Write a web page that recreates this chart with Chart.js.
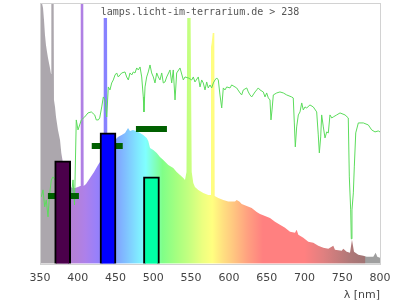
<!DOCTYPE html>
<html>
<head>
<meta charset="utf-8">
<script src="https://cdn.jsdelivr.net/npm/chart.js@4.4.1/dist/chart.umd.min.js"></script>
<style>
  html, body { margin: 0; padding: 0; background: #fff; }
  #wrap { width: 400px; height: 300px; }
</style>
</head>
<body>
<div id="wrap"><canvas id="spectrumChart"></canvas></div>
<script>
// x axis ticks (nm)
const xTicks = [350, 400, 450, 500, 550, 600, 650, 700, 750, 800];

// lamp spectrum (relative intensity, 0..261)
const lampNm = [350, 352.6, 354, 355.3, 356.6, 357.9, 359.3, 360.6, 361.9, 363.2,
  364.6, 365, 368.1, 368.5, 369.9, 371.2, 373.8, 376.5, 378.2, 380.4,
  384.4, 388.4, 392.4, 396.3, 400.3, 403.3, 403.9, 407.3, 407.8, 410.9,
  416.2, 421.5, 426.8, 429.4, 434, 434.3, 438.7, 439.1, 442.6, 449.3,
  453.2, 458.1, 462.5, 466.5, 469.1, 473.1, 477.1, 482.4, 486.7, 491.2,
  493.3, 495.6, 500, 504.5, 508.8, 513.2, 519.8, 526.4, 530.9, 535.3,
  539.7, 541.9, 543.9, 545, 549.2, 550.8, 552.9, 555.1, 559.5, 566.1,
  572.7, 575.9, 576.3, 577.2, 578.6, 580.7, 581.2, 586, 592.6, 599.2,
  608.1, 610.3, 613.8, 617, 623.6, 630.2, 636.8, 641.2, 647.8, 654.4,
  661, 667.6, 674.3, 680.9, 687.5, 689.7, 691.9, 698.5, 705.1, 711.7,
  718.3, 725, 731.6, 738.2, 740.4, 749.3, 751.4, 755.9, 760.3, 762.9,
  765.6, 771.3, 777.9, 782.4, 791.1, 794.3, 796.4, 800];
const lampValues = [261, 261, 256, 244, 229, 219, 212, 206, 201, 196,
  190, 261, 261, 164, 157, 147, 134, 124, 111, 101,
  89, 79, 76, 76, 77, 78, 261, 261, 78, 80,
  86, 92, 99, 102, 104, 261, 261, 112, 116, 124,
  127, 129, 131, 136, 133, 134, 133, 131, 129, 126,
  123, 116, 114, 111, 107, 104, 99, 96, 92, 89,
  86, 84, 92, 261, 261, 92, 81, 77, 74, 71,
  69, 69, 217, 221, 231, 231, 68, 66, 64, 62.5,
  62.5, 64, 62.5, 60, 58, 56, 52, 50, 48, 46,
  42, 39, 36, 32, 31, 34, 29, 26, 22, 21,
  18, 16, 15, 18, 14, 13, 15, 12, 11, 24,
  12, 9, 8, 7, 7, 11, 7, 6];

// daylight reference (green line)
const sunNm = [351.7, 354, 356.2, 358.3, 360.6, 362.6, 365, 367.2, 379, 391.4,
  393.7, 395.7, 398, 400.3, 404.7, 409.2, 413.5, 417.9, 422.4, 424.5,
  427.2, 429, 431.7, 433.8, 436, 438.3, 440.4, 442.6, 444.9, 447,
  449.3, 451.5, 453.6, 455.9, 458.1, 462.5, 464.7, 466.9, 469.1, 471.4,
  473.5, 475.7, 478, 480.1, 482.4, 484.6, 486.7, 487.6, 489, 491.2,
  493.3, 495.6, 497.8, 500, 502.2, 504.5, 506.6, 508.8, 511.1, 513.2,
  515.4, 517.7, 522.1, 524.3, 526.4, 528.7, 530.9, 535.3, 539.7, 541.9,
  546.3, 550.8, 552.9, 555.1, 559.5, 561.8, 564, 566.1, 568.4, 570.6,
  572.7, 575, 577.2, 579.4, 581.6, 583.9, 586, 588.2, 590.5, 592.6,
  594.8, 597.1, 601.5, 603.7, 608.1, 610.3, 614.7, 616.9, 619.1, 623.6,
  625.7, 627.9, 630.2, 634.6, 636.8, 638.9, 641.2, 645.5, 647.8, 650,
  652.2, 654.4, 655.7, 657.1, 658.8, 663.3, 667.6, 672, 676.5, 683.1,
  685.2, 686.6, 687.9, 689.7, 691.9, 694.1, 696.4, 698.5, 700.7, 703,
  707.3, 711.7, 716.2, 718.3, 719.7, 721.5, 722.8, 725, 727.2, 729.5,
  731.6, 733.8, 736.1, 738.2, 742.7, 747.1, 753.7, 758, 759.4, 761.2,
  762, 762.9, 764.7, 766, 767.9, 771.3, 777.9, 784.5, 789, 793.4,
  797.7, 800];
const sunValues = [67, 74, 57, 64, 47, 69, 84, 87, 74, 67,
  84, 59, 144, 134, 144, 147, 151, 152, 149, 144,
  144, 146, 157, 167, 164, 147, 177, 174, 181, 184,
  189, 191, 187, 189, 191, 192, 187, 184, 191, 189,
  192, 191, 196, 194, 197, 187, 167, 152, 177, 187,
  192, 199, 191, 187, 181, 191, 187, 184, 191, 181,
  182, 187, 194, 181, 194, 164, 191, 196, 184, 187,
  186, 184, 187, 182, 187, 177, 184, 181, 174, 182,
  176, 179, 176, 181, 184, 186, 184, 169, 156, 176,
  174, 177, 176, 179, 177, 176, 171, 169, 174, 176,
  172, 169, 167, 172, 174, 176, 174, 172, 167, 171,
  166, 164, 144, 154, 169, 171, 172, 171, 169, 167,
  166, 141, 117, 137, 149, 152, 161, 154, 157, 156,
  159, 157, 152, 129, 111, 127, 149, 137, 126, 132,
  131, 149, 146, 147, 149, 151, 149, 146, 87, 54,
  25, 54, 71, 97, 131, 141, 141, 139, 134, 132,
  133, 132];

// band bars and their reference marks
const barNm = [380, 440, 497.5];
const barValues = [103, 131, 87];
const barColors = ['#4b004b', '#0000ff', '#00ffa5'];
const markerNm = [381, 439, 497.5];
const markerValues = [68, 118, 135];

// colour of the lamp fill along the wavelength axis
const paletteNm = [350, 378, 381, 400, 410, 425, 436, 450, 465, 480, 490, 500, 512, 530,
  546, 565, 578, 592, 605, 625, 645, 700, 725, 760, 780, 781, 800];
const paletteColors = ['#aca7ad', '#aca7ad', '#b681cc', '#b380dc', '#ad80ea', '#9880fa', '#8880ff',
  '#80a0ff', '#80c4ff', '#80eaff', '#80ffff', '#80ffc8', '#80ff88', '#a4ff80', '#c2ff80',
  '#ecff80', '#ffff80', '#ffe080', '#ffc880', '#ffa080', '#ff8080', '#ff8080', '#e08080',
  '#b07878', '#a07474', '#9f9f9f', '#9f9f9f'];

const stampText = 'lamps.licht-im-terrarium.de > 238';

function spectrumFill(context) {
  const chart = context.chart;
  const area = chart.chartArea;
  if (!area) return null;
  const xs = chart.scales.x;
  const g = chart.ctx.createLinearGradient(area.left, 0, area.right, 0);
  paletteNm.forEach((nm, i) => {
    const t = (xs.getPixelForValue(nm) - area.left) / (area.right - area.left);
    g.addColorStop(Math.min(1, Math.max(0, t)), paletteColors[i]);
  });
  return g;
}

const frameAndStamp = {
  id: 'frameAndStamp',
  afterDatasetsDraw(chart) {
    const { ctx, chartArea: a } = chart;
    ctx.save();
    ctx.strokeStyle = '#d2d2d2';
    ctx.lineWidth = 1;
    ctx.strokeRect(Math.round(a.left) + 0.5, Math.round(a.top) + 0.5,
      Math.round(a.right - a.left), Math.round(a.bottom - a.top));

    ctx.font = '10px "DejaVu Sans Mono", monospace';
    const w = ctx.measureText(stampText).width;
    const cx = chart.width / 2;
    ctx.fillStyle = '#fff';
    ctx.fillRect(cx - w / 2 - 2, Math.round(a.top) + 1, w + 4, 14);
    ctx.fillStyle = '#555';
    ctx.textAlign = 'center';
    ctx.textBaseline = 'alphabetic';
    ctx.fillText(stampText, cx, 15);
    ctx.restore();
  }
};

new Chart(document.getElementById('spectrumChart'), {
  type: 'line',
  data: {
    datasets: [
      {
        type: 'bar',
        label: 'bands',
        data: barNm.map((nm, i) => ({ x: nm, y: barValues[i] })),
        backgroundColor: barColors,
        borderColor: '#000',
        borderWidth: 2,
        barThickness: 16,
        order: 1
      },
      {
        label: 'marks',
        data: markerNm.map((nm, i) => ({ x: nm, y: markerValues[i] })),
        showLine: false,
        pointStyle: 'line',
        pointRadius: 15.5,
        pointBorderWidth: 6,
        pointBorderColor: '#006000',
        pointBackgroundColor: '#006000',
        pointHoverRadius: 15.5,
        order: 2
      },
      {
        label: 'daylight',
        data: sunNm.map((nm, i) => ({ x: nm, y: sunValues[i] })),
        borderColor: '#5cdc5c',
        borderWidth: 1,
        pointRadius: 0,
        fill: false,
        tension: 0,
        order: 3
      },
      {
        label: 'lamp',
        data: lampNm.map((nm, i) => ({ x: nm, y: lampValues[i] })),
        borderWidth: 0,
        borderColor: 'rgba(0,0,0,0)',
        backgroundColor: spectrumFill,
        pointRadius: 0,
        fill: 'origin',
        tension: 0,
        order: 4
      }
    ]
  },
  options: {
    responsive: true,
    maintainAspectRatio: false,
    animation: false,
    layout: { autoPadding: false, padding: { left: 40, right: 20, top: 3, bottom: 0 } },
    plugins: {
      legend: { display: false },
      tooltip: { enabled: false }
    },
    scales: {
      x: {
        type: 'linear',
        min: 350,
        max: 800,
        offset: false,
        afterBuildTicks: (scale) => { scale.ticks = xTicks.map(v => ({ value: v })); },
        grid: { display: false, drawTicks: false, offset: false },
        border: { display: false },
        ticks: {
          padding: 7.4,
          color: '#444',
          font: { family: 'DejaVu Sans', size: 11, lineHeight: 1.2 },
          maxRotation: 0
        },
        title: {
          display: true,
          text: 'λ [nm]',
          align: 'end',
          color: '#444',
          font: { family: 'DejaVu Sans', size: 11, lineHeight: 0.65 },
          padding: { top: 0, bottom: 1 }
        }
      },
      y: {
        display: false,
        min: 0,
        max: 261
      }
    }
  },
  plugins: [frameAndStamp]
});
</script>
</body>
</html>
